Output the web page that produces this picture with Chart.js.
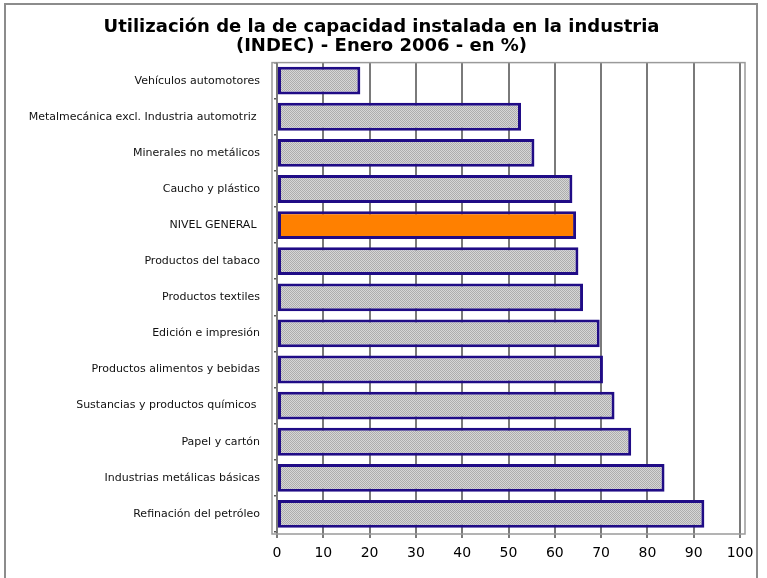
<!DOCTYPE html>
<html>
<head>
    <meta charset="UTF-8">
    <title>Capacidad instalada</title>
    <script src="https://cdn.jsdelivr.net/npm/chart.js@4.4.0/dist/chart.umd.min.js"></script>
    <style>
        body { margin: 0; background: #fff; }
        #wrap { width: 767px; height: 578px; }
    </style>
</head>
<body>
    <div id="wrap"><canvas id="capChart" width="767" height="578"></canvas></div>

    <script>
        // rubros, de arriba hacia abajo
        var rubros = [
            'Vehículos automotores',
            'Metalmecánica excl. Industria automotriz ',
            'Minerales no metálicos',
            'Caucho y plástico',
            'NIVEL GENERAL ',
            'Productos del tabaco',
            'Productos textiles',
            'Edición e impresión',
            'Productos alimentos y bebidas',
            'Sustancias y productos químicos ',
            'Papel y cartón',
            'Industrias metálicas básicas',
            'Refinación del petróleo'
        ];
        // utilización en %
        var utilizacion = [18, 52.7, 55.6, 63.8, 64.6, 65.1, 66.1, 69.7, 70.4, 72.9, 76.5, 83.7, 92.3];
        var tituloLineas = ['Utilización de la de capacidad instalada en la industria', '(INDEC) - Enero 2006 - en %)'];
        var ejeMin = 0, ejeMax = 100, ejePaso = 10;

        // trama gris punteada para las barras
        function trama() {
            var c = document.createElement('canvas');
            c.width = 2; c.height = 2;
            var g = c.getContext('2d');
            g.fillStyle = '#d6d6d6'; g.fillRect(0, 0, 2, 2);
            g.fillStyle = '#adadad'; g.fillRect(0, 0, 1, 1); g.fillRect(1, 1, 1, 1);
            return g.createPattern(c, 'repeat');
        }
        var gris = trama();
        var colores = rubros.map(function (r) {
            return r.trim() === 'NIVEL GENERAL' ? '#ff8000' : gris;
        });

        var marcos = {
            id: 'marcos',
            beforeDraw: function (chart) {
                var ctx = chart.ctx;
                ctx.save();
                ctx.fillStyle = '#fff';
                ctx.fillRect(0, 0, chart.width, chart.height);
                // marco exterior
                ctx.strokeStyle = '#8c8c8c';
                ctx.lineWidth = 2;
                ctx.strokeRect(5, 4, 752, 600);
                ctx.restore();
            },
            afterDatasetsDraw: function (chart) {
                var ctx = chart.ctx, a = chart.chartArea;
                ctx.save();
                ctx.strokeStyle = '#9a9a9a';
                ctx.lineWidth = 1.5;
                ctx.strokeRect(a.left - 5, a.top, a.right - a.left + 10, a.bottom - a.top + 2);
                ctx.strokeStyle = '#7a7a7a';
                ctx.lineWidth = 1;
                ctx.beginPath();
                ctx.moveTo(a.left - 0.5, a.top);
                ctx.lineTo(a.left - 0.5, a.bottom);
                ctx.stroke();
                ctx.restore();
            }
        };

        new Chart(document.getElementById('capChart').getContext('2d'), {
            type: 'bar',
            data: {
                labels: rubros,
                datasets: [{
                    data: utilizacion,
                    backgroundColor: colores,
                    borderColor: '#200c86',
                    borderWidth: 3,
                    borderSkipped: false,
                    barPercentage: 0.77,
                    categoryPercentage: 1
                }]
            },
            options: {
                indexAxis: 'y',
                responsive: false,
                animation: false,
                layout: { padding: { left: 23, right: 27, top: 0, bottom: 0 } },
                plugins: {
                    legend: { display: false },
                    tooltip: { enabled: false },
                    title: {
                        display: true,
                        text: tituloLineas,
                        color: '#000',
                        font: { family: '"DejaVu Sans", Verdana', size: 18, weight: 'bold', lineHeight: 1.1 },
                        padding: { top: 17, bottom: 6 }
                    }
                },
                scales: {
                    x: {
                        min: ejeMin,
                        max: ejeMax,
                        ticks: {
                            stepSize: ejePaso,
                            color: '#000',
                            padding: 7,
                            font: { family: '"DejaVu Sans", Verdana', size: 14 }
                        },
                        grid: { color: '#7a7a7a', lineWidth: 2, tickLength: 6, tickColor: '#7a7a7a' },
                        border: { display: false },
                        afterFit: function (s) { s.height = 46; }
                    },
                    y: {
                        ticks: {
                            color: '#111',
                            padding: 14,
                            font: { family: '"DejaVu Sans", Verdana', size: 11 }
                        },
                        grid: { drawOnChartArea: false, offset: true, tickLength: 3, color: '#555', lineWidth: 1.5 },
                        border: { display: false },
                        afterFit: function (s) { s.width = 254; }
                    }
                }
            },
            plugins: [marcos]
        });
    </script>
</body>
</html>
